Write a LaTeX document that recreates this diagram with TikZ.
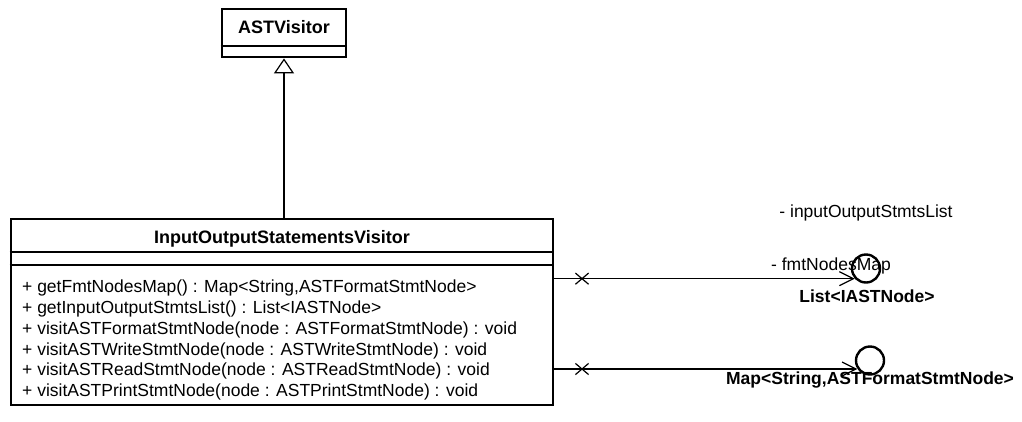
\documentclass[tikz,border=0pt]{standalone}
\usepackage{fontspec}
\setmainfont{Liberation Sans}
\usetikzlibrary{arrows.meta,shapes.misc}
\begin{document}
\begin{tikzpicture}[x=1pt,y=-1pt,
  classbox/.style={draw, line width=2.8pt, inner sep=0pt},
  sepline/.style={line width=1.2pt},
  member/.style={anchor=base west, inner sep=0pt, font=\fontsize{17.5}{21}\selectfont},
  titletext/.style={anchor=base, inner sep=0pt, font=\fontsize{18}{22}\selectfont\bfseries},
  role/.style={inner sep=0pt, font=\fontsize{17.5}{21}\selectfont},
  typename/.style={inner sep=0pt, font=\fontsize{17.5}{21}\selectfont\bfseries},
  iface/.style={draw, circle, line width=2.4pt, minimum size=28pt, inner sep=0pt},
  assoc/.style={line width=1.2pt, -{Straight Barb[length=14pt,width=14pt,line width=1.2pt]}},
  xmark/.style={cross out, draw, line width=1.2pt, minimum width=12pt, minimum height=10pt, inner sep=0pt},
  inherit/.style={line width=1.2pt, -{Triangle[open,length=15pt,width=20pt,line width=1.2pt]}}
]
\useasboundingbox (0,0) rectangle (1022,421);

% superclass
\node[classbox, minimum width=124pt, minimum height=48pt] (base) at (284,33) {};
\node[titletext] (basetitle) at (284,33.5) {ASTVisitor};
\draw[sepline] (base.west |- 0,46) -- (base.east |- 0,46);

% visitor class
\node[classbox, minimum width=542pt, minimum height=186pt] (main) at (282,312) {};
\node[titletext] (maintitle) at (282,243) {InputOutputStatementsVisitor};
\draw[sepline] (main.west |- 0,252) -- (main.east |- 0,252);
\draw[sepline] (main.west |- 0,265) -- (main.east |- 0,265);

\node[member] (m1) at (22,292)   {+ getFmtNodesMap() : Map<String,ASTFormatStmtNode>};
\node[member] (m2) at (22,313)   {+ getInputOutputStmtsList() : List<IASTNode>};
\node[member] (m3) at (22,334)   {+ visitASTFormatStmtNode(node : ASTFormatStmtNode) : void};
\node[member] (m4) at (22,355)   {+ visitASTWriteStmtNode(node : ASTWriteStmtNode) : void};
\node[member] (m5) at (22,375.5) {+ visitASTReadStmtNode(node : ASTReadStmtNode) : void};
\node[member] (m6) at (22,396)   {+ visitASTPrintStmtNode(node : ASTPrintStmtNode) : void};

% generalization
\draw[inherit] (base.south |- main.north) -- (base.south);

% association to List<IASTNode>
\node[iface] (c1) at (866,268.5) {};
\draw[assoc] (main.east |- c1.222) -- (c1.222);
\node[xmark] (x1) at (c1.222 -| 582,0) {};
\node[role] (r1) at (866,213) {- inputOutputStmtsList};
\node[role] (r2) at (831,266) {- fmtNodesMap};
\node[typename] (t1) at (867,296) {List<IASTNode>};

% association to Map<String,ASTFormatStmtNode>
\node[iface] (c2) at (870,360.5) {};
\draw[assoc] (main.east |- c2.214) -- (c2.214);
\node[xmark] (x2) at (c2.214 -| 582,0) {};
\node[typename] (t2) at (870,380) {Map<String,ASTFormatStmtNode>};
\end{tikzpicture}
\end{document}
